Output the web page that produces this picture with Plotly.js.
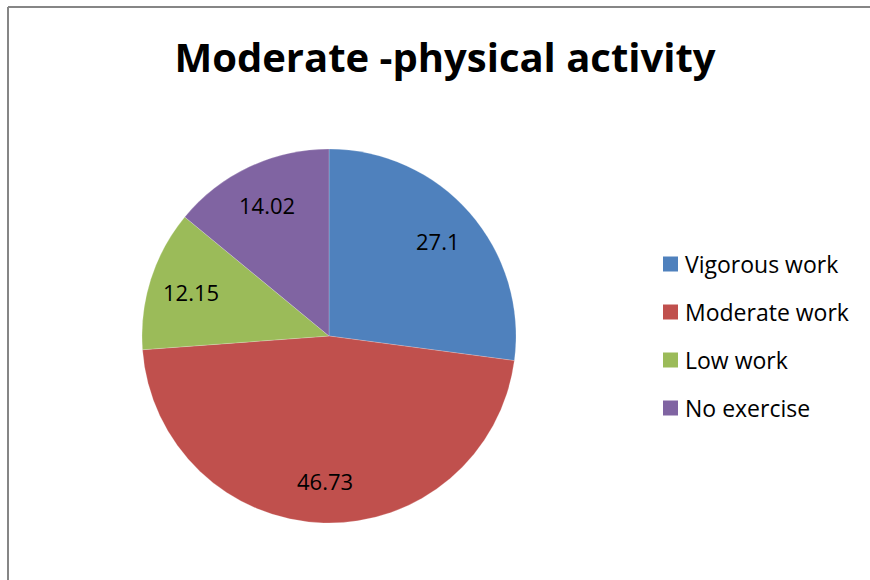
<!DOCTYPE html>
<html>
<head>
<meta charset="utf-8">
<script src="https://cdn.plot.ly/plotly-3.0.1.min.js"></script>
<style>html,body{margin:0;padding:0;background:#fff;}#chart{width:870px;height:580px;}</style>
</head>
<body>
<div id="chart"></div>
<script>
const categories = ["Vigorous work", "Moderate work", "Low work", "No exercise"];
const values = [27.1, 46.73, 12.15, 14.02];
const colors = ["#4F81BD", "#C0504D", "#9BBB59", "#8064A2"];
const chartTitle = "Moderate -physical activity";

const W = 870, H = 580;
const font = "Open Sans, Liberation Sans, Arial, sans-serif";

// pie geometry (pixels)
const cx = 329, cy = 336, R = 187;

const trace = {
  type: "pie",
  labels: categories,
  values: values,
  sort: false,
  direction: "clockwise",
  rotation: 0,
  marker: {colors: colors, line: {color: "rgba(255,255,255,0.4)", width: 0.5}},
  textinfo: "none",
  hoverinfo: "label+value",
  showlegend: false,
  domain: {x: [(cx - R) / W, (cx + R) / W], y: [(H - cy - R) / H, (H - cy + R) / H]}
};

const shapes = [
  {type: "line", xref: "paper", yref: "paper", x0: 8 / W, x1: 1, y0: 1 - 7 / H, y1: 1 - 7 / H, line: {color: "#868686", width: 2}},
  {type: "line", xref: "paper", yref: "paper", x0: 8 / W, x1: 8 / W, y0: 0, y1: 1 - 7 / H, line: {color: "#868686", width: 2}}
];
const annotations = [];

// data labels placed at the slice mid-angle (Excel "best fit" style)
const total = values.reduce((a, b) => a + b, 0);
let cum = 0;
values.forEach((v, i) => {
  const mid = (cum + v / 2) / total * 2 * Math.PI;
  cum += v;
  const r = 0.775 * R;
  const px = cx + r * Math.sin(mid);
  const py = cy - r * Math.cos(mid);
  annotations.push({xref: "paper", yref: "paper", x: px / W, y: 1 - py / H,
    xanchor: "center", yanchor: "middle", showarrow: false, text: String(v),
    font: {family: font, size: 22, color: "#000"}});
});

// legend
const legX = 663, legY0 = 264, legStep = 48, sq = 15;
categories.forEach((c, i) => {
  const yc = legY0 + i * legStep;
  shapes.push({type: "rect", xref: "paper", yref: "paper",
    x0: legX / W, x1: (legX + sq) / W, y0: 1 - (yc + sq / 2) / H, y1: 1 - (yc - sq / 2) / H,
    fillcolor: colors[i], line: {width: 0}});
  annotations.push({xref: "paper", yref: "paper", x: 683 / W, y: 1 - yc / H,
    xanchor: "left", yanchor: "middle", showarrow: false, text: c,
    font: {family: font, size: 23, color: "#000"}});
});

const layout = {
  width: W, height: H,
  margin: {l: 0, r: 0, t: 0, b: 0},
  paper_bgcolor: "#fff",
  title: {text: "<b>" + chartTitle + "</b>", x: 445 / W, xanchor: "center", y: 1 - 58 / H, yanchor: "middle",
    font: {family: font, size: 40, color: "#000"}},
  shapes: shapes,
  annotations: annotations,
  showlegend: false
};

Plotly.newPlot("chart", [trace], layout, {displayModeBar: false, staticPlot: true});
</script>
</body>
</html>
